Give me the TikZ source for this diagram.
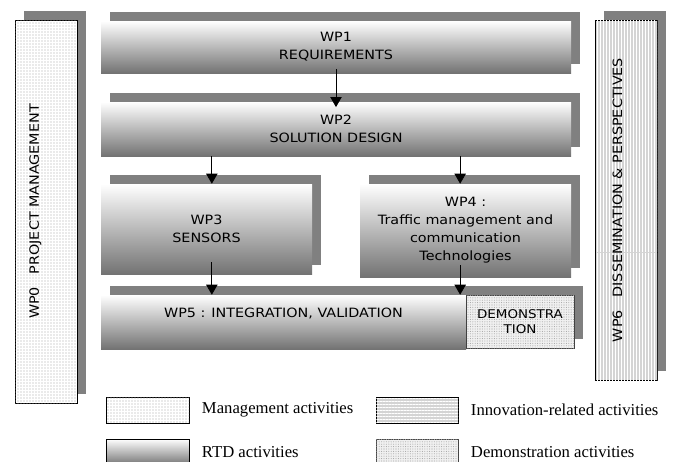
\documentclass[tikz,border=0pt]{standalone}
\usepackage{fontspec}
\usepackage{graphicx}
\setmainfont{Liberation Serif}
\newfontfamily\wpfont{DejaVu Sans}[FakeStretch=1.12]
\usetikzlibrary{arrows.meta,positioning,shadows,patterns.meta}

\begin{document}
\begin{tikzpicture}[x=0.75pt,y=-0.75pt,
  wptext/.style={inner sep=0pt,align=center,font=\wpfont\fontsize{9.6}{13.5}\selectfont},
  shade/.style={drop shadow={shadow xshift=7pt,shadow yshift=7pt,fill=black!50,opacity=1}},
  rtdfill/.style={top color=white,bottom color=black!55},
  mgmtfill/.style={draw,fill=white,postaction={pattern={Dots[distance=2.25pt,radius=0.45pt]},pattern color=black!35}},
  demofill/.style={draw=black!75,fill=black!6,postaction={pattern={Dots[distance=1.8pt,radius=0.4pt]},pattern color=black!35}},
  innovfill/.style={draw,fill=black!17,postaction={pattern={Lines[angle=#1,distance=2.25pt,line width=0.6pt]},pattern color=white}},
  innovfill/.default=90,
  legend/.style={font=\fontsize{12.5}{14}\selectfont,anchor=west},
  arr/.style={line width=0.6pt,-{Triangle[length=7.5pt,width=8.5pt]}}]
\useasboundingbox (0,0) rectangle (678,461);

\node[wptext,shade,mgmtfill,minimum width=46.5pt,minimum height=287.25pt] (wp0) at (46,211.5) {\rotatebox{90}{WP0\quad PROJECT MANAGEMENT}\hspace{16pt}};
\node[wptext,shade,innovfill,minimum width=46.5pt,minimum height=270pt] (wp6) at (626,200) {\rotatebox{90}{WP6\quad DISSEMINATION \& PERSPECTIVES}\hspace{13pt}};

\node[wptext,shade,rtdfill,minimum width=352.5pt,minimum height=39pt] (wp1) at (336,47) {WP1\\REQUIREMENTS};
\node[wptext,shade,rtdfill,minimum width=352.5pt,minimum height=40.5pt] (wp2) at (336,129) {WP2\\SOLUTION DESIGN};
\node[wptext,shade,rtdfill,minimum width=158.25pt,minimum height=67.5pt] (wp3) at (206.5,229) {WP3\\SENSORS};
\node[wptext,shade,rtdfill,minimum width=158.25pt,minimum height=69.75pt] (wp4) at (465.5,230.5) {WP4 :\\Traffic management and\\communication\\Technologies};
\node[wptext,shade,rtdfill,minimum width=273.75pt,minimum height=40.5pt,text height=6.5pt,text depth=14pt] (wp5) at (283.5,322) {WP5 : INTEGRATION, VALIDATION};
\node[wptext,shade,demofill,minimum width=81pt,minimum height=39.75pt,font=\wpfont\fontsize{9}{11.5}\selectfont] (demo) at (520,321.5) {DEMONSTRA\\TION};

\draw[arr] ([yshift=3pt]wp1.south) -- ([yshift=-4pt]wp2.north);
\draw[arr] ([xshift=4pt]wp3.north |- wp2.south) -- ([xshift=4pt]wp3.north);
\draw[arr] ([xshift=-4pt]wp4.north |- wp2.south) -- ([xshift=-4pt]wp4.north);
\draw[arr] ([xshift=4pt,yshift=9pt]wp3.south) -- ([xshift=4pt]wp3.south |- wp5.north);
\draw[arr] ([xshift=-4pt,yshift=9pt]wp4.south) -- ([xshift=-4pt]wp4.south |- wp5.north);

\node[mgmtfill,minimum width=62.25pt,minimum height=19.5pt] (lgmgmt) at (147.5,410) {};
\node[legend,right=6pt of lgmgmt] (txmgmt) {Management activities};
\node[innovfill=0,minimum width=61.5pt,minimum height=19.5pt] (lginnov) at (417,410) {};
\node[legend,right=6pt of lginnov] (txinnov) {Innovation-related activities};
\node[draw,rtdfill,minimum width=62.25pt,minimum height=19.5pt] (lgrtd) at (147.5,452) {};
\node[legend,right=6pt of lgrtd] (txrtd) {RTD activities};
\node[demofill,minimum width=61.5pt,minimum height=19.5pt] (lgdemo) at (417,452) {};
\node[legend,right=6pt of lgdemo] (txdemo) {Demonstration activities};
\end{tikzpicture}
\end{document}
